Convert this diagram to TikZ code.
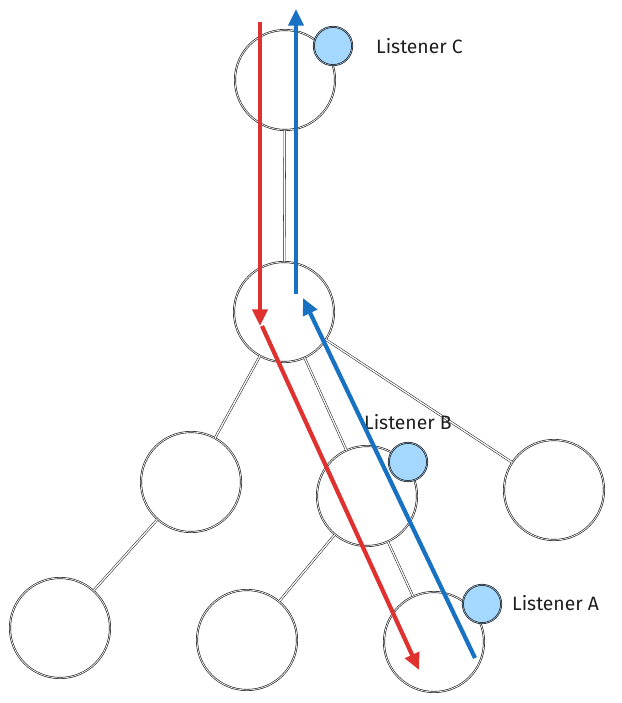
\documentclass[tikz,border=0pt]{standalone}
\usepackage{fontspec}
\setmainfont{Fira Sans}
\usepackage{tikz}
\usetikzlibrary{arrows.meta,calc,positioning}
\definecolor{ink}{HTML}{1E1E1E}
\definecolor{redflow}{HTML}{E03131}
\definecolor{blueflow}{HTML}{1971C2}
\definecolor{listenfill}{HTML}{A5D8FF}

\begin{document}
\begin{tikzpicture}[x=0.03cm,y=-0.03cm,
          treenode/.style={circle, draw=ink, line width=0.55pt, double=white, double distance=0.6pt, fill=white, minimum size=3cm, inner sep=0pt},
          listener/.style={circle, draw=ink, line width=0.6pt, double=listenfill, double distance=0.4pt, fill=listenfill, minimum size=1.15cm, inner sep=0pt},
          edge/.style={draw=ink, line width=0.45pt, double=white, double distance=1.1pt},
          label/.style={anchor=west, font=\fontsize{16.5}{19}\selectfont\color{ink}},
          redarrow/.style={-{Triangle[length=5mm,width=4.5mm]}, line width=3.6pt, color=redflow},
          bluearrow/.style={-{Triangle[length=5mm,width=4.5mm]}, line width=3.6pt, color=blueflow}
        ]
          \useasboundingbox (0,0) rectangle (622,703);
          % tree nodes
          \node[treenode] (nc) at (285,80) {};
          \node[treenode] (nroot) at (284,312) {};
          \node[treenode] (nleft) at (191,482) {};
          \node[treenode] (nb) at (367,496) {};
          \node[treenode] (nright) at (554,490) {};
          \node[treenode] (nleaf1) at (60,628) {};
          \node[treenode] (nleaf2) at (247,640) {};
          \node[treenode] (na) at (434,642) {};
          % tree edges
          \draw[edge] (nc) -- (nroot);
          \draw[edge] (nroot) -- (nleft);
          \draw[edge] (nroot) -- (nb);
          \draw[edge] (nroot) -- (nright);
          \draw[edge] (nleft) -- (nleaf1);
          \draw[edge] (nb) -- (nleaf2);
          \draw[edge] (nb) -- (na);
          % listeners
          \node[listener] (lc) at (333,46) {};
          \node[listener] (lb) at (408,462) {};
          \node[listener] (la) at (482,604) {};
          \node[label] (tc) at (372,46) {Listener C};
          \node[label] (tb) at (360,422) {Listener B};
          \node[label] (ta) at (508,603) {Listener A};
          % event flow
          \coordinate (rtop) at (260,22);
          \coordinate (rmid) at (260,326);
          \coordinate (rstart) at (262,326);
          \coordinate (rend) at (419,670);
          \coordinate (bstart) at (475,658);
          \coordinate (bmid) at (303,298);
          \coordinate (bdown) at (296,294);
          \coordinate (btop) at (296,9);
          \draw[redarrow] (rtop) -- (rmid);
          \draw[redarrow] (rstart) -- (rend);
          \draw[bluearrow] (bstart) -- (bmid);
          \draw[bluearrow] (bdown) -- (btop);
        \end{tikzpicture}
\end{document}
